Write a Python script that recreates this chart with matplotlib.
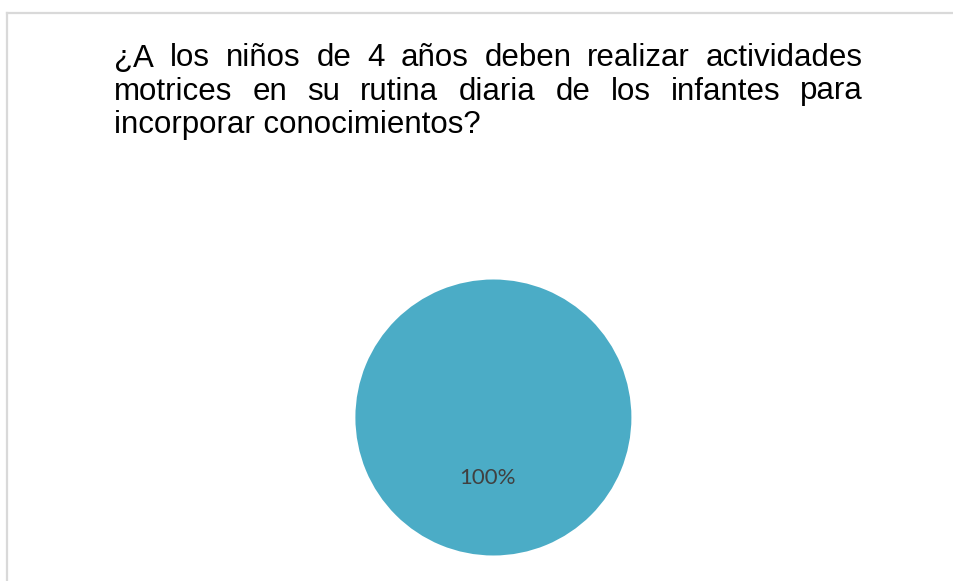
import matplotlib.pyplot as plt
from matplotlib.lines import Line2D

# Datos
categorias = ['Sí']
valores = [100]
titulo_lineas = [
    '¿A los niños de 4 años deben realizar actividades',
    'motrices en su rutina diaria de los infantes para',
    'incorporar conocimientos?',
]

W, H = 954, 581
fig = plt.figure(figsize=(W / 100, H / 100), dpi=100)

# Marco gris (arriba e izquierda)
fig.add_artist(Line2D([7.5 / W, 1], [1 - 12.5 / H] * 2, color='#d9d9d9', lw=1.6))
fig.add_artist(Line2D([7.5 / W] * 2, [0, 1 - 12.5 / H], color='#d9d9d9', lw=1.6))

# Título justificado
x0, x1 = 114, 863
bases = [66.5, 99.5, 132.5]
tam = 22.5
renderer = fig.canvas.get_renderer()
for i, linea in enumerate(titulo_lineas):
    palabras = linea.split(' ')
    y = 1 - bases[i] / H
    if i == len(titulo_lineas) - 1:
        fig.text(x0 / W, y, linea, fontsize=tam, family='Liberation Sans',
                 va='baseline', ha='left')
        continue
    textos = [fig.text(0, y, p, fontsize=tam, family='Liberation Sans',
                       va='baseline', ha='left') for p in palabras]
    anchos = [t.get_window_extent(renderer).width for t in textos]
    hueco = (x1 - x0 - sum(anchos)) / (len(palabras) - 1)
    x = x0
    for t, a in zip(textos, anchos):
        t.set_x(x / W)
        x += a + hueco

# Gráfico circular
cx, cy, r = 493.4, 417.5, 138
ax = fig.add_axes([(cx - r) / W, 1 - (cy + r) / H, 2 * r / W, 2 * r / H])
wedges, _, autotexts = ax.pie(valores, labels=None, colors=['#4bacc6'],
                              startangle=90, autopct='%1.0f%%', pctdistance=0.44,
                              textprops={'color': '#404040', 'fontsize': 16,
                                         'family': 'Lato'})
autotexts[0].set_x(-0.04)
ax.set_xlim(-1, 1)
ax.set_ylim(-1, 1)
ax.set_aspect('equal')
ax.axis('off')

fig.savefig('out.png', dpi=100)
